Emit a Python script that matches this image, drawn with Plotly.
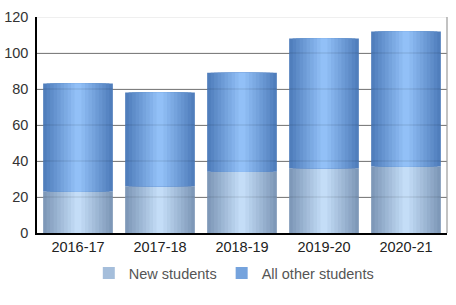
import plotly.graph_objects as go

years = ["2016-17", "2017-18", "2018-19", "2019-20", "2020-21"]
new_students = [23, 26, 34, 36, 37]
other_students = [60, 52, 55, 72, 75]
y_ticks = [0, 20, 40, 60, 80, 100, 120]

BAR_W = 0.85
N_LAYERS = 10


def lerp(c1, c2, t):
    return "rgb(%d,%d,%d)" % tuple(round(a + (b - a) * t) for a, b in zip(c1, c2))


series = [
    ("New students", new_students, None, (126, 152, 184), (196, 221, 247)),
    ("All other students", other_students, new_students, (80, 126, 188), (146, 192, 247)),
]

fig = go.Figure()
for name, vals, base, edge, center in series:
    for k in range(N_LAYERS):
        t = k / (N_LAYERS - 1)
        w = BAR_W * (1 - k / N_LAYERS)
        fig.add_trace(go.Bar(
            x=years, y=vals, base=base, width=w,
            name=name, legendgroup=name,
            showlegend=(k == N_LAYERS // 2),
            marker=dict(color=lerp(edge, center, t), line=dict(width=0)),
            hoverinfo="skip",
        ))

# faint gridlines over bars
for v in y_ticks[1:]:
    fig.add_shape(type="line", xref="paper", yref="y", x0=0, x1=1, y0=v, y1=v,
                  line=dict(color="rgba(0,0,0,0.13)", width=1), layer="above")
# right border
fig.add_shape(type="line", xref="paper", yref="paper", x0=1, x1=1, y0=0, y1=1,
              line=dict(color="#999999", width=1.2), layer="above")

fig.update_layout(
    width=456, height=305,
    margin=dict(l=37, r=9, t=17, b=72),
    barmode="overlay",
    plot_bgcolor="white", paper_bgcolor="white",
    font=dict(family="Liberation Sans, Arial, sans-serif", size=14.5, color="#333333"),
    showlegend=True,
    legend=dict(orientation="h", x=0.48, xanchor="center", y=-0.185, yanchor="middle",
                font=dict(size=14.5, color="#555555"), traceorder="normal",
                itemwidth=30, tracegroupgap=0),
    xaxis=dict(showline=True, linecolor="black", linewidth=1.5, ticks="",
               showgrid=False, zeroline=False, automargin=False,
               tickfont=dict(color="#222222", size=14.5)),
    yaxis=dict(range=[0, 120], tickvals=y_ticks, showline=True, linecolor="black",
               linewidth=1.5, ticks="", gridcolor="#888888", gridwidth=1,
               zeroline=False, automargin=False, ticklabelstandoff=4,
               tickfont=dict(color="#333333", size=14.5)),
)

fig.write_html("out.html")
